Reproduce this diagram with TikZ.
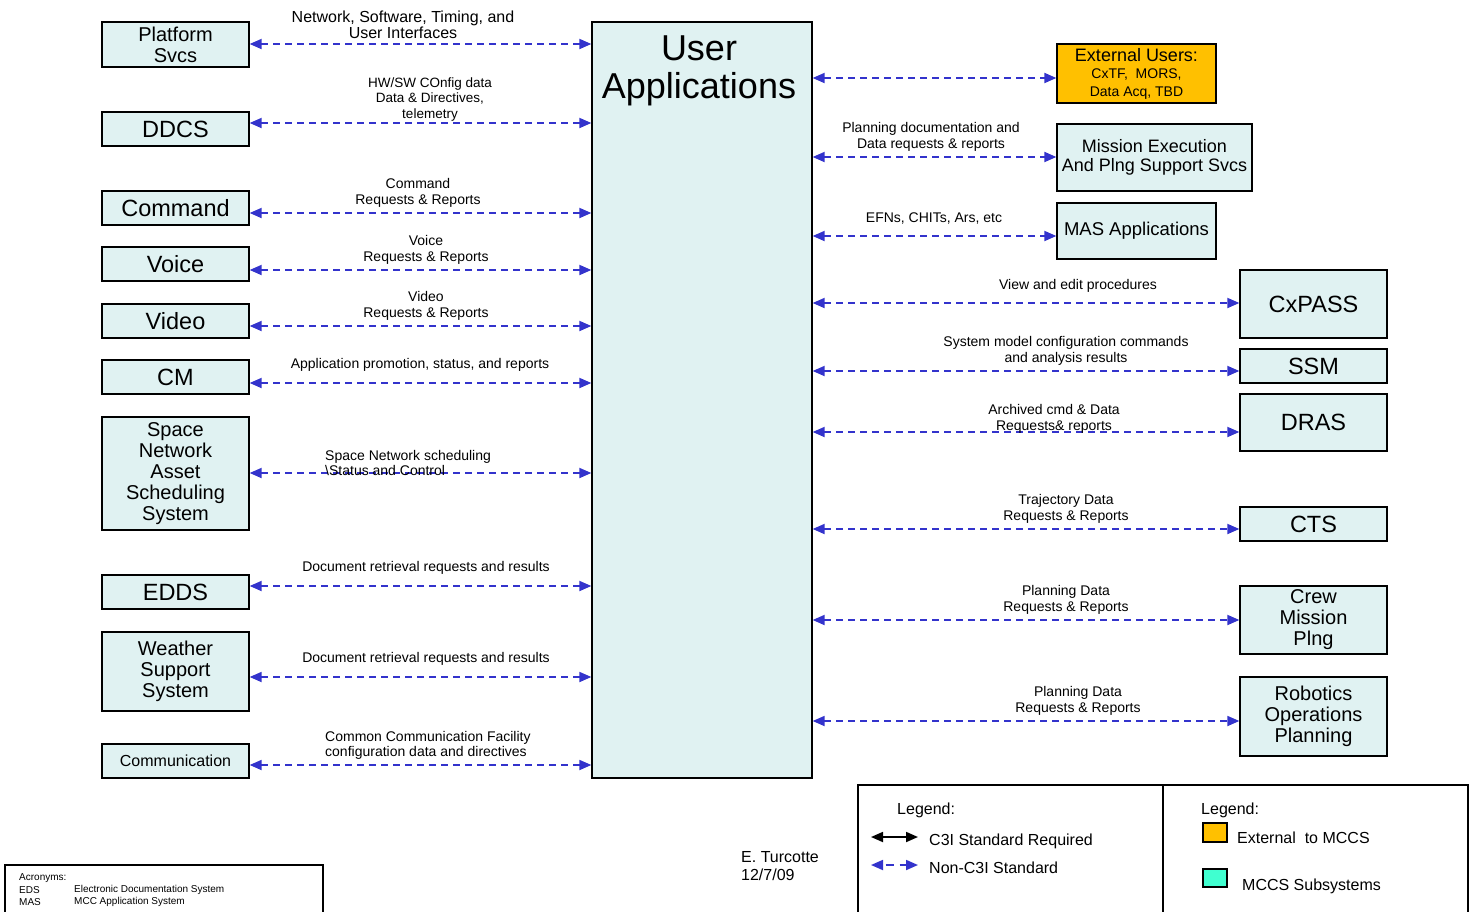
\documentclass[tikz,border=0pt]{standalone}
\usepackage{fontspec}
\setmainfont{Liberation Sans}
\usetikzlibrary{arrows.meta}
\definecolor{boxfill}{RGB}{224,242,242}
\definecolor{linkblue}{RGB}{51,51,204}
\definecolor{extorange}{RGB}{255,192,0}
\definecolor{subcyan}{RGB}{64,255,208}
\newcommand\fsz[2]{\fontsize{#1}{#2}\selectfont}

\begin{document}
\begin{tikzpicture}[x=1pt,y=-1pt,
  sys/.style={draw=black, line width=1.3pt, fill=boxfill, inner sep=0pt, align=center},
  single/.style={sys, font=\fsz{23.5}{24}},
  multi/.style={sys, font=\fsz{20}{21}},
  link/.style={draw=linkblue, line width=1.8pt, dash pattern=on 7pt off 5pt,
    {Triangle[length=12pt,width=10pt]}-{Triangle[length=12pt,width=10pt]}},
  lab/.style={inner sep=0pt, align=center, yshift=-2pt, font=\fsz{14}{16}},
  labl/.style={inner sep=0pt, align=left, anchor=west, yshift=-2pt, font=\fsz{14}{15}},
  legtext/.style={inner sep=0pt, anchor=west, yshift=-1.5pt, font=\fsz{16}{18}},
  acr/.style={inner sep=0pt, anchor=west, yshift=-1.5pt, font=\fsz{10}{12}},
  frame/.style={draw=black, line width=1.6pt}]

\useasboundingbox (0,0) rectangle (1476,911);
\clip (0,0) rectangle (1476,911);
\fill[white] (0,0) rectangle (1476,911);

% ---- central application block
\node[sys, minimum width=220, minimum height=756] (ua) at (702,400) {};
\node[inner sep=0pt, align=center, font=\fsz{36}{38}] (uatitle) at (699,71) {User\\Applications};

% ---- left-hand systems
\node[multi, minimum width=147, minimum height=45] (plat) at (175.5,44.5) {Platform\\Svcs};
\node[single, minimum width=147, minimum height=34] (ddcs) at (175.5,129) {DDCS};
\node[single, minimum width=147, minimum height=34] (cmd) at (175.5,208) {Command};
\node[single, minimum width=147, minimum height=34] (voice) at (175.5,264) {Voice};
\node[single, minimum width=147, minimum height=34] (video) at (175.5,321) {Video};
\node[single, minimum width=147, minimum height=34] (cm) at (175.5,377) {CM};
\node[multi, minimum width=147, minimum height=113] (snas) at (175.5,473.5) {Space\\Network\\Asset\\Scheduling\\System};
\node[single, minimum width=147, minimum height=34] (edds) at (175.5,592) {EDDS};
\node[multi, minimum width=147, minimum height=79] (wss) at (175.5,671.5) {Weather\\Support\\System};
\node[sys, font=\fsz{16}{18}, minimum width=147, minimum height=34] (comm) at (175.5,761) {Communication};

% ---- right-hand systems
\node[sys, fill=extorange, font=\fsz{14}{17.5}, minimum width=159, minimum height=59] (ext) at (1136.5,73.5)
  {{\fsz{18}{17.5}External Users:}\\CxTF,\ \ MORS,\\Data Acq, TBD};
\node[sys, font=\fsz{18}{19}, minimum width=195, minimum height=67] (mes) at (1154.5,157.5) {Mission Execution\\And Plng Support Svcs};
\node[sys, font=\fsz{18.5}{19}, minimum width=159, minimum height=56] (mas) at (1136.5,231) {MAS Applications};
\node[single, minimum width=147, minimum height=68] (cxpass) at (1313.5,304) {CxPASS};
\node[single, minimum width=147, minimum height=34] (ssm) at (1313.5,366) {SSM};
\node[single, minimum width=147, minimum height=57] (dras) at (1313.5,422.5) {DRAS};
\node[single, minimum width=147, minimum height=34] (cts) at (1313.5,524) {CTS};
\node[multi, minimum width=147, minimum height=68] (cmp) at (1313.5,620) {Crew\\Mission\\Plng};
\node[multi, minimum width=147, minimum height=79] (rop) at (1313.5,716.5) {Robotics\\Operations\\Planning};

% ---- left-hand interfaces
\draw[link] (plat.east |- 0,44) -- (ua.west |- 0,44);
\draw[link] (ddcs.east |- 0,123) -- (ua.west |- 0,123);
\draw[link] (cmd.east |- 0,213) -- (ua.west |- 0,213);
\draw[link] (voice.east |- 0,270) -- (ua.west |- 0,270);
\draw[link] (video.east |- 0,326) -- (ua.west |- 0,326);
\draw[link] (cm.east |- 0,383) -- (ua.west |- 0,383);
\draw[link] (snas.east |- 0,473) -- (ua.west |- 0,473);
\draw[link] (edds.east |- 0,586) -- (ua.west |- 0,586);
\draw[link] (wss.east |- 0,677) -- (ua.west |- 0,677);
\draw[link] (comm.east |- 0,765) -- (ua.west |- 0,765);

\node[lab, font=\fsz{16}{16}] (l1) at (403,23) {Network, Software, Timing, and\\User Interfaces};
\node[lab, font=\fsz{13.5}{15.5}] (l2) at (430,97.5) {HW/SW COnfig data\\Data \& Directives,\\telemetry};
\node[lab] (l3) at (418,191) {Command\\Requests \& Reports};
\node[lab] (l4) at (426,248) {Voice\\Requests \& Reports};
\node[lab] (l5) at (426,304) {Video\\Requests \& Reports};
\node[lab] (l6) at (420,363) {Application promotion, status, and reports};
\node[labl] (l7) at (325,460.5) {Space Network scheduling\\\textbackslash Status and Control};
\node[lab] (l8) at (426,566) {Document retrieval requests and results};
\node[lab] (l9) at (426,657) {Document retrieval requests and results};
\node[labl] (l10) at (325,743) {Common Communication Facility\\configuration data and directives};

% ---- right-hand interfaces
\draw[link] (ua.east |- 0,78) -- (ext.west |- 0,78);
\draw[link] (ua.east |- 0,157) -- (mes.west |- 0,157);
\draw[link] (ua.east |- 0,236) -- (mas.west |- 0,236);
\draw[link] (ua.east |- 0,303) -- (cxpass.west |- 0,303);
\draw[link] (ua.east |- 0,371) -- (ssm.west |- 0,371);
\draw[link] (ua.east |- 0,432) -- (dras.west |- 0,432);
\draw[link] (ua.east |- 0,529) -- (cts.west |- 0,529);
\draw[link] (ua.east |- 0,620) -- (cmp.west |- 0,620);
\draw[link] (ua.east |- 0,721) -- (rop.west |- 0,721);

\node[lab] (r2) at (931,135) {Planning documentation and\\Data requests \& reports};
\node[lab] (r3) at (934,217) {EFNs, CHITs, Ars, etc};
\node[lab] (r4) at (1078,284) {View and edit procedures};
\node[lab] (r5) at (1066,349) {System model configuration commands\\and analysis results};
\node[lab] (r6) at (1054,417) {Archived cmd \& Data\\Requests\& reports};
\node[lab] (r7) at (1066,507) {Trajectory Data\\Requests \& Reports};
\node[lab] (r8) at (1066,598) {Planning Data\\Requests \& Reports};
\node[lab] (r9) at (1078,699) {Planning Data\\Requests \& Reports};

% ---- author and date
\node[inner sep=0pt, anchor=north west, align=left, font=\fsz{16}{18}] (author) at (741,851.5) {E. Turcotte\\12/7/09};

% ---- line legend
\draw[frame] (858,920) -- (858,785) -- (1163,785) -- (1163,920);
\node[legtext] (lg1) at (897,809) {Legend:};
\coordinate (sa) at (871,837);
\coordinate (sb) at (918,837);
\draw[line width=1.8pt, {Triangle[length=12pt,width=10pt]}-{Triangle[length=12pt,width=10pt]}] (sa) -- (sb);
\node[legtext] (lstd) at (929,839.5) {C3I Standard Required};
\coordinate (na) at (871,865);
\coordinate (nb) at (918,865);
\draw[link, dash pattern=on 8pt off 6pt, dash phase=-3pt] (na) -- (nb);
\node[legtext] (lnon) at (929,866.5) {Non-C3I Standard};

% ---- colour legend
\draw[frame] (1163,785) -- (1468,785) -- (1468,920);
\node[legtext] (lg2) at (1201,809) {Legend:};
\node[draw=black, line width=1.3pt, fill=extorange, minimum width=24, minimum height=19, inner sep=0pt] (kext) at (1215,832.5) {};
\node[legtext] (lext) at (1237,836) {External\ \ to MCCS};
\node[draw=black, line width=1.3pt, fill=subcyan, minimum width=24, minimum height=18, inner sep=0pt] (ksub) at (1215,878) {};
\node[legtext] (lsub) at (1242,885) {MCCS Subsystems};

% ---- acronyms
\draw[frame, line width=1.3pt] (5,920) -- (5,865) -- (323,865) -- (323,920);
\node[acr] (a0) at (19,877) {Acronyms:};
\node[acr] (a1) at (19,888.5) {EDS};
\node[acr] (a1d) at (74,888.5) {Electronic Documentation System};
\node[acr] (a2) at (19,900.5) {MAS};
\node[acr] (a2d) at (74,900.5) {MCC Application System};
\end{tikzpicture}
\end{document}
